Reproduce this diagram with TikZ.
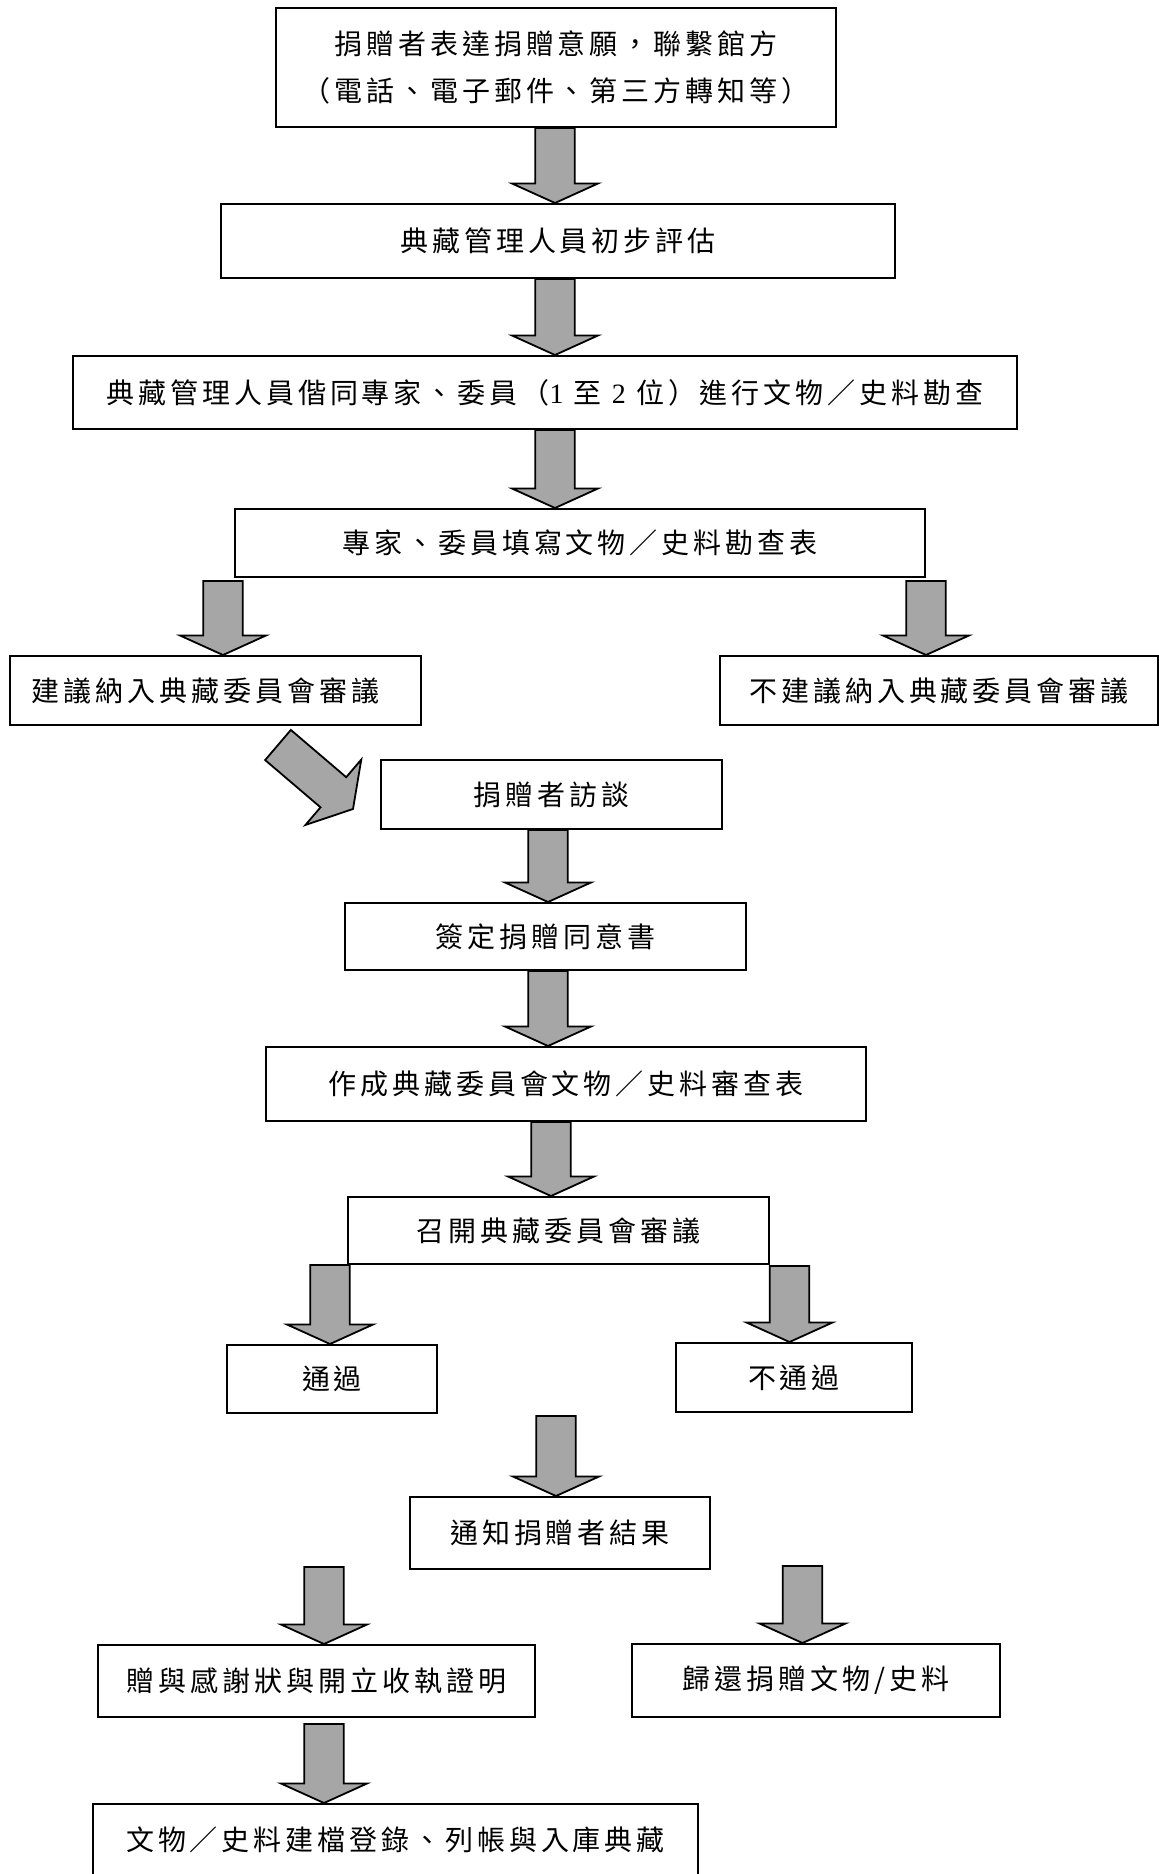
\documentclass[tikz,border=0pt]{standalone}
\usepackage{fontspec}
\setmainfont{Liberation Serif}
\newfontfamily\cjk{Noto Sans CJK TC}[LetterSpace=14]
\newfontfamily\latfont{Liberation Serif}
\usetikzlibrary{calc}
\definecolor{arrowgray}{RGB}{166,166,166}
\tikzset{
  box/.style={draw=black, line width=1pt, rectangle, inner sep=0pt,
    font=\cjk\fontsize{14}{23.5}\selectfont, align=center},
  barr/.style={draw=black, line width=0.9pt, fill=arrowgray, line join=miter},
}
% block arrow: [head length]{tail}{tip}
\newcommand\barrow[3][9.75pt]{%
  \draw[barr] let \p1=#2, \p2=#3, \p3=($(\p2)!#1!(\p1)$) in
    ($(\p1)!9.9pt!90:(\p2)$) -- ($(\p3)!9.9pt!90:(\p2)$) -- ($(\p3)!21.5pt!90:(\p2)$) -- (\p2)
    -- ($(\p3)!21.5pt!-90:(\p2)$) -- ($(\p3)!9.9pt!-90:(\p2)$) -- ($(\p1)!9.9pt!-90:(\p2)$) -- cycle;%
}
\begin{document}
\begin{tikzpicture}[x=0.5pt,y=-0.5pt]
\useasboundingbox (0,0) rectangle (1159,1874);
\clip (0,0) rectangle (1159,1874);

\node[box, minimum width=280pt, minimum height=59.5pt] (b1) at (556,67.5)
  {捐贈者表達捐贈意願，聯繫館方\\（電話、電子郵件、第三方轉知等）};
\node[box, minimum width=337pt, minimum height=37pt] (b2) at (558,241) {典藏管理人員初步評估};
\node[box, minimum width=472pt, minimum height=36.5pt] (b3) at (545,392.5)
  {典藏管理人員偕同專家、委員（{\latfont 1} 至 {\latfont 2} 位）進行文物／史料勘查};
\node[box, minimum width=345pt, minimum height=34pt] (b4) at (580,543) {專家、委員填寫文物／史料勘查表};
\node[box, minimum width=205.5pt, minimum height=34.5pt] (b5) at (215.5,690.5) {建議納入典藏委員會審議\hspace*{10pt}};
\node[box, minimum width=219pt, minimum height=34.5pt] (b6) at (939,690.5) {不建議納入典藏委員會審議};
\node[box, minimum width=170.5pt, minimum height=34.5pt] (b7) at (551.5,794.5) {捐贈者訪談};
\node[box, minimum width=200.5pt, minimum height=33.5pt] (b8) at (545.5,936.5) {簽定捐贈同意書};
\node[box, minimum width=300pt, minimum height=37pt] (b9) at (566,1084) {作成典藏委員會文物／史料審查表};
\node[box, minimum width=210.5pt, minimum height=33.5pt] (b10) at (558.5,1230.5) {召開典藏委員會審議};
\node[box, minimum width=105pt, minimum height=34pt] (b11) at (332,1379) {通過};
\node[box, minimum width=118pt, minimum height=34.5pt] (b12) at (794,1377.5) {不通過};
\node[box, minimum width=150pt, minimum height=36pt] (b13) at (560,1533) {通知捐贈者結果};
\node[box, minimum width=218.5pt, minimum height=36pt] (b14) at (316.5,1681) {贈與感謝狀與開立收執證明};
\node[box, minimum width=184pt, minimum height=36.5pt] (b15) at (816,1680.5) {歸還捐贈文物/史料};
\node[box, minimum width=302.5pt, minimum height=36pt] (b16) at (395.5,1840) {文物／史料建檔登錄、列帳與入庫典藏};

\coordinate (cA) at (555,0);
\barrow{(cA |- b1.south)}{(cA |- b2.north)}
\barrow{(cA |- b2.south)}{(cA |- b3.north)}
\barrow{(cA |- b3.south)}{(cA |- b4.north)}
\coordinate (t4) at (223,581);
\barrow{(t4)}{(t4 |- b5.north)}
\coordinate (t5) at (926,581);
\barrow{(t5)}{(t5 |- b6.north)}
\coordinate (t6) at (278,745);
\coordinate (h6) at (353,809);
\barrow[12.9pt]{(t6)}{(h6)}
\coordinate (cB) at (548,0);
\barrow{(cB |- b7.south)}{(cB |- b8.north)}
\barrow{(cB |- b8.south)}{(cB |- b9.north)}
\coordinate (cC) at (551,0);
\barrow{(cC |- b9.south)}{(cC |- b10.north)}
\coordinate (cD) at (330,1265);
\barrow{(cD)}{(cD |- b11.north)}
\coordinate (cE) at (789.5,1266);
\barrow{(cE)}{(cE |- b12.north)}
\coordinate (t12) at (556,1416);
\barrow{(t12)}{(t12 |- b13.north)}
\coordinate (t13) at (324,1567);
\barrow{(t13)}{(t13 |- b14.north)}
\coordinate (t14) at (324,1724);
\barrow{(t14)}{(t14 |- b16.north)}
\coordinate (t15) at (802.5,1566);
\barrow{(t15)}{(t15 |- b15.north)}
\end{tikzpicture}
\end{document}
